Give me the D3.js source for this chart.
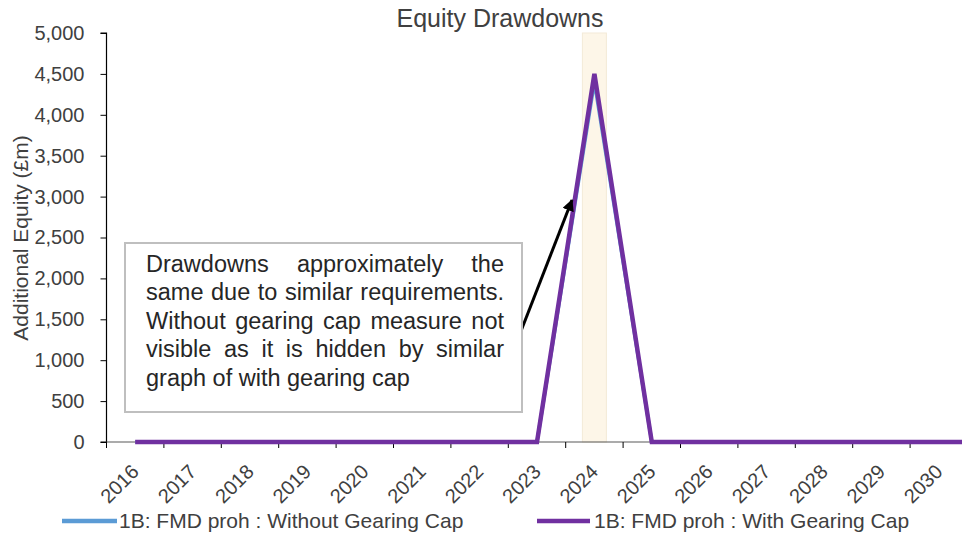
<!DOCTYPE html>
<html>
<head>
<meta charset="utf-8">
<script src="https://cdn.jsdelivr.net/npm/d3@7"></script>
<style>
  html, body { margin: 0; padding: 0; background: #fff; overflow: hidden; }
  svg { display: block; font-family: "Liberation Sans", Arial, sans-serif; }
</style>
</head>
<body>
<svg id="chart" width="962" height="538"></svg>
<script>
// Equity drawdowns by year (£m); the axis runs on past the right edge of the frame
const years = ["2016","2017","2018","2019","2020","2021","2022","2023","2024","2025","2026","2027","2028","2029","2030","2031"];
const yearLabels = ["2016","2017","2018","2019","2020","2021","2022","2023","2024","2025","2026","2027","2028","2029","2030"];
const withoutGearingCap = [0,0,0,0,0,0,0,0,4400,0,0,0,0,0,0,0];
const withGearingCap    = [0,0,0,0,0,0,0,0,4500,0,0,0,0,0,0,0];
const yTicks = [0,500,1000,1500,2000,2500,3000,3500,4000,4500,5000];
const highlightYear = "2024";
const seriesNames = ["1B: FMD proh : Without Gearing Cap", "1B: FMD proh : With Gearing Cap"];
const noteLines = [
  "Drawdowns approximately the",
  "same due to similar requirements.",
  "Without gearing cap measure not",
  "visible as it is hidden by similar",
  "graph of with gearing cap"
];

const svg = d3.select("#chart");
const textColor = "#404040";
const band = 57.4;
const plotLeft = 106.5, plotTop = 33, plotBottom = 442;
const plotRight = plotLeft + band * years.length;

const x = d3.scaleBand().domain(years).range([plotLeft, plotRight]).padding(0);
const y = d3.scaleLinear().domain([0, 5000]).range([plotBottom, plotTop]);

// Title
svg.append("text")
  .attr("x", 500).attr("y", 27)
  .attr("text-anchor", "middle")
  .attr("font-size", 25).attr("fill", textColor)
  .text("Equity Drawdowns");

// Highlighted year band
svg.append("rect")
  .attr("x", x(highlightYear) + x.bandwidth() / 2 - 12)
  .attr("y", plotTop)
  .attr("width", 24)
  .attr("height", plotBottom - plotTop)
  .attr("fill", "#fdf6e8")
  .attr("stroke", "#f3ead8")
  .attr("stroke-width", 1);

// Y axis
const yAxis = d3.axisLeft(y).tickValues(yTicks).tickSize(6).tickPadding(16)
  .tickFormat(d3.format(","));
const gy = svg.append("g").attr("transform", `translate(${plotLeft},0)`).call(yAxis);
gy.select(".domain").attr("stroke", "#000").attr("stroke-width", 1.2).attr("d", `M-6,${plotTop}H0V${plotBottom}H-6`);
gy.selectAll(".tick line").attr("stroke", "#000").attr("stroke-width", 1);
gy.selectAll(".tick text").attr("font-size", 20).attr("fill", textColor)
  .attr("font-family", "Liberation Sans, Arial, sans-serif");

// Y axis title
svg.append("text")
  .attr("transform", `translate(28,238) rotate(-90)`)
  .attr("text-anchor", "middle")
  .attr("font-size", 21).attr("fill", textColor)
  .text("Additional Equity  (£m)");

// X axis: ticks on category boundaries
const gx = svg.append("g").attr("class", "xaxis");
gx.append("line")
  .attr("x1", plotLeft).attr("x2", plotRight).attr("y1", plotBottom).attr("y2", plotBottom)
  .attr("stroke", "#595959").attr("stroke-width", 1.2);
gx.selectAll("line.tick").data(years).join("line")
  .attr("class", "tick")
  .attr("x1", d => x(d))
  .attr("x2", d => x(d))
  .attr("y1", plotBottom).attr("y2", plotBottom + 6)
  .attr("stroke", "#000").attr("stroke-width", 1);
gx.selectAll("text").data(yearLabels).join("text")
  .attr("transform", d => `translate(${x(d) + x.bandwidth() / 2 + 5},${plotBottom + 31}) rotate(-45)`)
  .attr("text-anchor", "end")
  .attr("font-size", 20).attr("fill", textColor)
  .text(d => d);

// Lines
const line = d3.line()
  .x((d, i) => x(years[i]) + x.bandwidth() / 2)
  .y(d => y(d));

svg.append("path").datum(withoutGearingCap)
  .attr("d", line).attr("fill", "none")
  .attr("stroke", "#5b9bd5").attr("stroke-width", 3.5).attr("stroke-linejoin", "miter");
svg.append("path").datum(withGearingCap)
  .attr("d", line).attr("fill", "none")
  .attr("stroke", "#7030a0").attr("stroke-width", 4.5).attr("stroke-linejoin", "miter");

// Annotation arrow
const defs = svg.append("defs");
defs.append("marker").attr("id", "arrow")
  .attr("viewBox", "0 0 10 10").attr("refX", 9).attr("refY", 5)
  .attr("markerWidth", 4).attr("markerHeight", 4).attr("orient", "auto")
  .append("path").attr("d", "M0,0L10,5L0,10Z").attr("fill", "#000");
svg.append("line")
  .attr("x1", 521).attr("y1", 331).attr("x2", 572).attr("y2", 200)
  .attr("stroke", "#000").attr("stroke-width", 3)
  .attr("marker-end", "url(#arrow)");

// Annotation box with justified text
svg.append("rect")
  .attr("x", 125).attr("y", 243).attr("width", 397).attr("height", 169)
  .attr("fill", "#fff").attr("stroke", "#bfbfbf").attr("stroke-width", 2);

const noteLeft = 146, noteRight = 504, lineGap = 28.4, firstBase = 272;
noteLines.forEach((ln, li) => {
  const words = ln.split(" ");
  const g = svg.append("g");
  const ts = words.map(w => g.append("text")
    .attr("font-size", 23.5).attr("fill", "#262626").attr("y", firstBase + li * lineGap).text(w));
  const widths = ts.map(t => t.node().getComputedTextLength());
  const total = d3.sum(widths);
  const last = li === noteLines.length - 1;
  const gap = last ? 6.5 : Math.max(4, (noteRight - noteLeft - total) / (words.length - 1));
  let cx = noteLeft;
  ts.forEach((t, i) => { t.attr("x", cx); cx += widths[i] + gap; });
});

// Legend
const legend = svg.append("g");
const legendItems = [
  { name: seriesNames[0], color: "#5b9bd5", x1: 62, x2: 117, tx: 119 },
  { name: seriesNames[1], color: "#7030a0", x1: 537, x2: 590, tx: 594 }
];
legendItems.forEach(it => {
  legend.append("line")
    .attr("x1", it.x1).attr("x2", it.x2).attr("y1", 521).attr("y2", 521)
    .attr("stroke", it.color).attr("stroke-width", 4.5);
  legend.append("text")
    .attr("x", it.tx).attr("y", 528)
    .attr("font-size", 21).attr("fill", textColor)
    .text(it.name);
});
</script>
</body>
</html>
